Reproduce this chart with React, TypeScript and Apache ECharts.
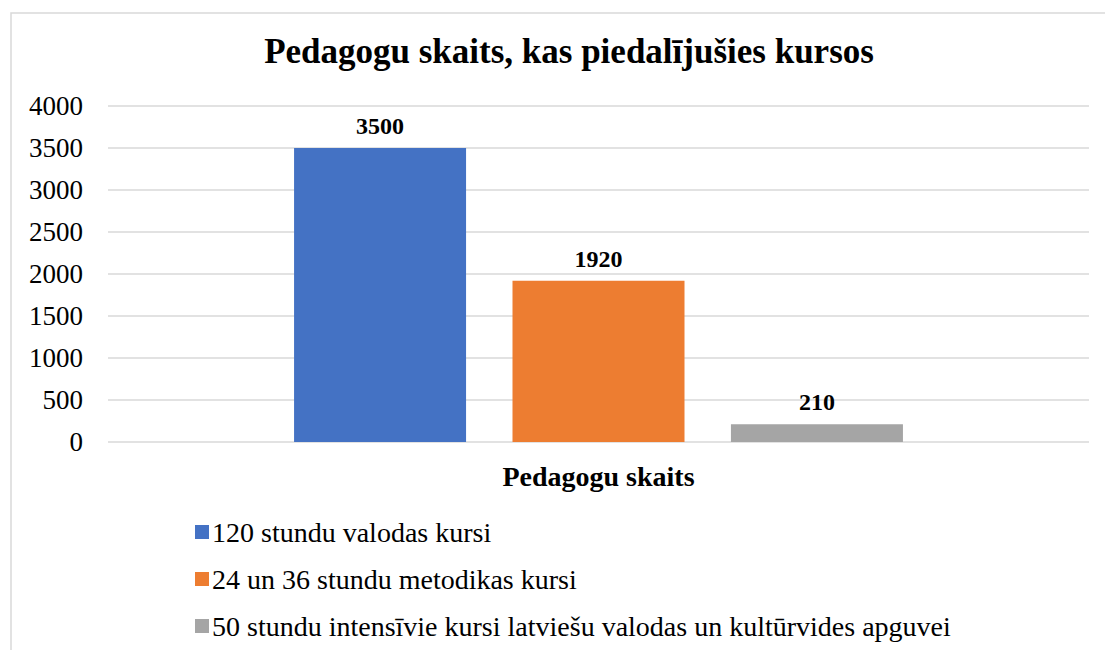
import React, { useEffect, useRef } from "react";
import * as echarts from "echarts";

const categories = ["Pedagogu skaits"];
const seriesNames = [
  "120 stundu valodas kursi",
  "24 un 36 stundu metodikas kursi",
  "50 stundu intensīvie kursi latviešu valodas un kultūrvides apguvei",
];
const seriesValues = [[3500], [1920], [210]];
const seriesColors = ["#4472C4", "#ED7D31", "#A5A5A5"];
const titleText = "Pedagogu skaits, kas piedalījušies kursos";

const FONT = "Liberation Serif";

export default function App() {
  const ref = useRef<HTMLDivElement>(null);
  useEffect(() => {
    document.body.style.margin = "0";
    const chart = echarts.init(ref.current!, null, { renderer: "svg" });
    chart.setOption({
      animation: false,
      textStyle: { fontFamily: FONT, color: "#000" },
      title: {
        text: titleText,
        left: 564,
        top: 29,
        textAlign: "center",
        textStyle: { fontFamily: FONT, fontSize: 35, fontWeight: "bold", color: "#000" },
      },
      graphic: [
        {
          type: "rect",
          shape: { x: 11, y: 13, width: 1120, height: 660 },
          style: { fill: "none", stroke: "#d9d9d9", lineWidth: 1.5 },
          silent: true,
        },
      ],
      grid: { left: 108, right: 16, top: 106, bottom: 208, containLabel: false },
      legend: {
        orient: "vertical",
        left: 190,
        top: 513,
        itemWidth: 14,
        itemHeight: 14,
        itemGap: 19,
        icon: "rect",
        textStyle: { fontFamily: FONT, fontSize: 28, color: "#000", padding: [0, 0, 0, -2] },
        data: seriesNames,
      },
      xAxis: {
        type: "category",
        data: categories,
        axisLine: { show: false },
        axisTick: { show: false },
        axisLabel: {
          margin: 20,
          fontFamily: FONT,
          fontSize: 28,
          fontWeight: "bold",
          color: "#000",
        },
      },
      yAxis: {
        type: "value",
        min: 0,
        max: 4000,
        interval: 500,
        axisLine: { show: false },
        axisTick: { show: false },
        axisLabel: {
          margin: 25,
          fontFamily: FONT,
          fontSize: 27,
          color: "#000",
          formatter: (v: number) => String(v),
        },
        splitLine: { lineStyle: { color: "#d9d9d9", width: 1.5 } },
      },
      series: seriesNames.map((name, i) => ({
        name,
        type: "bar",
        data: seriesValues[i],
        barWidth: 172,
        barGap: "27%",
        itemStyle: { color: seriesColors[i] },
        label: {
          show: true,
          position: "top",
          distance: 10,
          fontFamily: FONT,
          fontSize: 24,
          fontWeight: "bold",
          color: "#000",
        },
      })),
    });
    return () => chart.dispose();
  }, []);
  return <div ref={ref} style={{ width: 1105, height: 650 }} />;
}
